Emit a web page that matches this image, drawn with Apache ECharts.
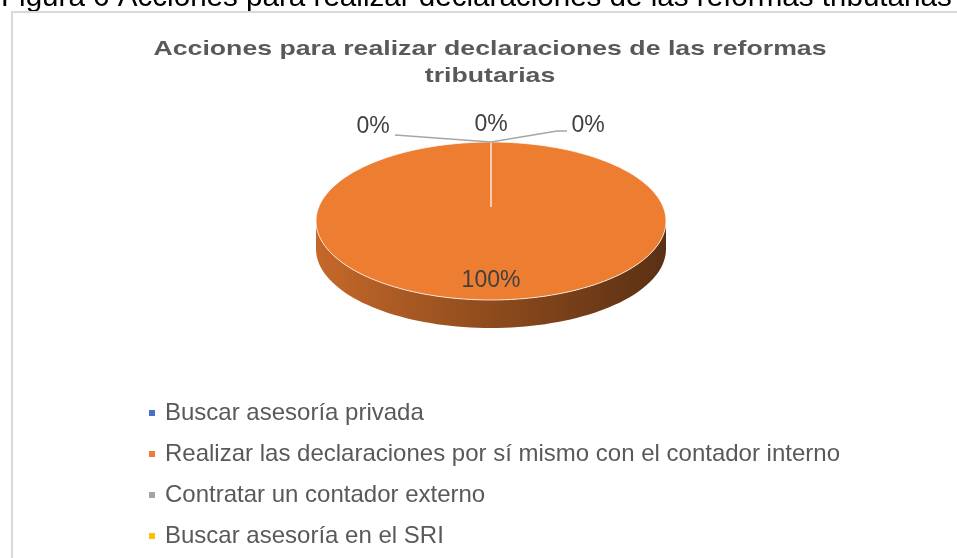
<!DOCTYPE html>
<html>
<head>
<meta charset="utf-8">
<script src="https://cdn.jsdelivr.net/npm/echarts@6/dist/echarts.min.js"></script>
<style>
html, body { margin: 0; padding: 0; background: #fff; }
#chart { width: 957px; height: 558px; }
</style>
</head>
<body>
<div id="chart"></div>
<script>
// categorias de la figura
var categories = [
  'Buscar asesoría privada',
  'Realizar las declaraciones por sí mismo con el contador interno',
  'Contratar un contador externo',
  'Buscar asesoría en el SRI'
];
// porcentaje de respuestas
var values = [0, 100, 0, 0];

var colors = ['#4472c4', '#ed7d31', '#a5a5a5', '#ffc000'];
var FONT = '"Liberation Sans", Arial, sans-serif';

// geometria del pastel 3D (elipse + borde)
var PIE = { cx: 491, cy: 221, rx: 175, ry: 79, depth: 28, hub: -14 };

// ubicacion de etiquetas para porciones de 0% (relativa al borde superior)
var zeroLabels = {
  0: { dx: -118, dy: -15, line: [[-96, -7]] },
  2: { dx: 0, dy: -17, line: null },
  3: { dx: 97, dy: -16, line: [[66, -11], [76, -11]] }
};

function shade(hex, f) {
  var c = echarts.color.parse(hex);
  return 'rgb(' + Math.round(c[0] * f) + ',' + Math.round(c[1] * f) + ',' + Math.round(c[2] * f) + ')';
}

function pt(a, dy) {
  return [PIE.cx + PIE.rx * Math.sin(a), PIE.cy - PIE.ry * Math.cos(a) + (dy || 0)];
}

function arcPoints(a0, a1, dy) {
  var pts = [];
  var n = Math.max(2, Math.ceil((a1 - a0) / (Math.PI * 2) * 160));
  for (var k = 0; k <= n; k++) {
    pts.push(pt(a0 + (a1 - a0) * k / n, dy));
  }
  return pts;
}

function renderSlice(params, api) {
  var i = params.seriesIndex;
  var total = values.reduce(function (s, v) { return s + v; }, 0);
  var before = 0;
  for (var k = 0; k < i; k++) before += values[k];
  var v = api.value(0);
  var a0 = before / total * Math.PI * 2;
  var a1 = (before + v) / total * Math.PI * 2;
  var color = colors[i];
  var children = [];
  var pct = Math.round(v / total * 100) + '%';
  var labelStyle = { text: pct, fill: '#404040', fontSize: 23, fontFamily: FONT, align: 'center', verticalAlign: 'middle' };

  if (v > 0) {
    // lado visible (mitad frontal), claro a la izquierda y oscuro a la derecha
    var s = Math.max(a0, Math.PI / 2), e = Math.min(a1, Math.PI * 1.5);
    if (e > s) {
      var top = arcPoints(s, e, 0);
      var bottom = arcPoints(s, e, PIE.depth).reverse();
      children.push({
        type: 'polygon',
        shape: { points: top.concat(bottom) },
        style: {
          fill: new echarts.graphic.LinearGradient(0, 0, 1, 0, [
            { offset: 0, color: shade(color, 0.83) },
            { offset: 0.5, color: shade(color, 0.6) },
            { offset: 1, color: shade(color, 0.38) }
          ])
        }
      });
    }
    // cara superior
    var hub = [PIE.cx, PIE.cy + PIE.hub];
    children.push({
      type: 'polygon',
      shape: { points: [hub].concat(arcPoints(a0, a1, 0)).concat([hub]) },
      style: { fill: color, stroke: 'rgba(255,255,255,0.75)', lineWidth: 1 }
    });
    var mid = (a0 + a1) / 2;
    children.push({
      type: 'text',
      x: PIE.cx + PIE.rx * 0.76 * Math.sin(mid),
      y: PIE.cy - PIE.ry * 0.76 * Math.cos(mid),
      style: labelStyle
    });
  } else {
    var anchor = pt(a0, 0);
    var lay = zeroLabels[i] || { dx: 0, dy: -16, line: null };
    if (lay.line) {
      var pts = [anchor].concat(lay.line.map(function (p) { return [anchor[0] + p[0], anchor[1] + p[1]]; }));
      children.push({
        type: 'polyline',
        shape: { points: pts },
        style: { stroke: '#a6a6a6', lineWidth: 1.5, fill: null }
      });
    }
    children.push({
      type: 'text',
      x: anchor[0] + lay.dx,
      y: anchor[1] + lay.dy,
      style: labelStyle
    });
  }
  return { type: 'group', children: children };
}

var chart = echarts.init(document.getElementById('chart'));

var series = categories.map(function (name, i) {
  return {
    name: name,
    type: 'custom',
    coordinateSystem: 'none',
    renderItem: renderSlice,
    silent: true,
    z: values[i] > 0 ? 1 : 3,
    itemStyle: { color: colors[i] },
    data: [[values[i]]]
  };
});

var option = {
  animation: false,
  graphic: [
    {
      type: 'text',
      x: 1, y: 13,
      style: {
        text: 'Figura 6 Acciones para realizar declaraciones de las reformas tributarias',
        fill: '#000', fontSize: 29.6, fontFamily: FONT, verticalAlign: 'bottom'
      }
    },
    {
      type: 'rect',
      shape: { x: 12, y: 12, width: 1000, height: 600 },
      style: { fill: null, stroke: '#d9d9d9', lineWidth: 2 }
    },
    {
      type: 'text',
      x: 490, y: 36,
      scaleX: 1.27,
      originX: 0,
      style: {
        text: 'Acciones para realizar declaraciones de las reformas\ntributarias',
        fill: '#595959', fontSize: 21, fontWeight: 'bold', fontFamily: FONT,
        align: 'center', lineHeight: 27
      }
    }
  ],
  legend: {
    orient: 'vertical',
    left: 144,
    top: 396,
    icon: 'rect',
    itemWidth: 6,
    itemHeight: 6,
    itemGap: 17,
    selectedMode: false,
    textStyle: { color: '#595959', fontSize: 24, fontFamily: FONT, padding: [0, 0, 0, 5] },
    data: categories
  },
  series: series
};

chart.setOption(option);
</script>
</body>
</html>
